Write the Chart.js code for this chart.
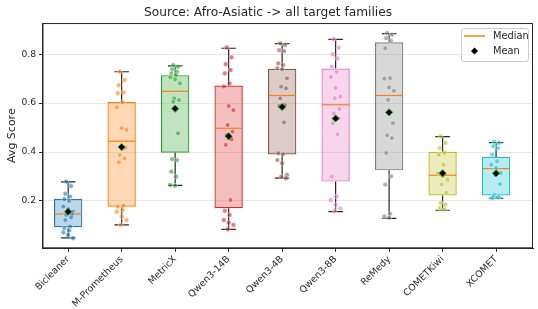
<!DOCTYPE html>
<html>
<head>
<meta charset="utf-8">
<script src="https://cdn.jsdelivr.net/npm/chart.js@4/dist/chart.umd.min.js"></script>
<style>
  html, body { margin: 0; padding: 0; background: #fff; }
  #chart { display: block; }
</style>
</head>
<body>
<canvas id="chart" width="538" height="309"></canvas>
<script>
// Categories and box statistics
const models = ['Bicleaner', 'M-Prometheus', 'MetricX', 'Qwen3-14B', 'Qwen3-4B', 'Qwen3-8B', 'ReMedy', 'COMETKiwi', 'XCOMET'];
const q1 = [0.093, 0.176, 0.397, 0.170, 0.390, 0.279, 0.325, 0.222, 0.222];
const medians = [0.147, 0.444, 0.648, 0.497, 0.631, 0.593, 0.631, 0.305, 0.332];
const q3 = [0.209, 0.604, 0.714, 0.672, 0.740, 0.741, 0.848, 0.401, 0.380];
const whiskerLow = [0.049, 0.102, 0.264, 0.084, 0.293, 0.156, 0.129, 0.162, 0.211];
const whiskerHigh = [0.278, 0.728, 0.752, 0.824, 0.843, 0.860, 0.884, 0.463, 0.438];
const means = [0.156, 0.420, 0.577, 0.464, 0.584, 0.537, 0.562, 0.313, 0.313];
const yTicks = [0.2, 0.4, 0.6, 0.8];

// individual scores (strip points)
const bicleanerPts = [0.279, 0.261, 0.229, 0.218, 0.207, 0.200, 0.177, 0.166, 0.156, 0.150, 0.145, 0.143, 0.133, 0.122, 0.095, 0.089, 0.079, 0.071, 0.061, 0.048];
const mPrometheusPts = [0.728, 0.694, 0.673, 0.644, 0.640, 0.603, 0.582, 0.497, 0.490, 0.422, 0.418, 0.388, 0.374, 0.358, 0.181, 0.177, 0.163, 0.156, 0.136, 0.122, 0.102];
const metricxPts = [0.755, 0.748, 0.738, 0.728, 0.721, 0.714, 0.705, 0.697, 0.680, 0.619, 0.612, 0.605, 0.476, 0.371, 0.367, 0.320, 0.299, 0.265, 0.262];
const qwen14Pts = [0.827, 0.787, 0.759, 0.735, 0.721, 0.680, 0.667, 0.588, 0.571, 0.510, 0.483, 0.469, 0.452, 0.429, 0.204, 0.160, 0.143, 0.122, 0.111, 0.102, 0.084];
const qwen4Pts = [0.844, 0.837, 0.816, 0.812, 0.762, 0.755, 0.742, 0.738, 0.701, 0.667, 0.660, 0.619, 0.592, 0.588, 0.521, 0.395, 0.391, 0.367, 0.354, 0.306, 0.299, 0.293];
const qwen8Pts = [0.861, 0.826, 0.799, 0.782, 0.748, 0.728, 0.707, 0.662, 0.626, 0.619, 0.576, 0.558, 0.537, 0.517, 0.472, 0.299, 0.218, 0.204, 0.184, 0.170, 0.159];
const remedyPts = [0.886, 0.879, 0.865, 0.854, 0.824, 0.702, 0.700, 0.664, 0.650, 0.613, 0.518, 0.468, 0.457, 0.396, 0.301, 0.267, 0.147, 0.137, 0.131];
const cometkiwiPts = [0.464, 0.437, 0.416, 0.396, 0.389, 0.348, 0.314, 0.301, 0.287, 0.267, 0.233, 0.192, 0.185, 0.171, 0.165];
const xcometPts = [0.442, 0.437, 0.424, 0.416, 0.389, 0.362, 0.348, 0.335, 0.314, 0.307, 0.269, 0.226, 0.221, 0.218, 0.215, 0.211];
const scores = [bicleanerPts, mPrometheusPts, metricxPts, qwen14Pts, qwen4Pts, qwen8Pts, remedyPts, cometkiwiPts, xcometPts];

const colors = ['#1f77b4', '#ff7f0e', '#2ca02c', '#d62728', '#8c564b', '#e377c2', '#7f7f7f', '#bcbd22', '#17becf'];

function rgba(hex, a) {
  const n = parseInt(hex.slice(1), 16);
  return `rgba(${(n >> 16) & 255},${(n >> 8) & 255},${n & 255},${a})`;
}

// small fixed horizontal spread so points don't sit on one line
function jitter(i) {
  return ((((i * 5 + 3) % 11) - 5) / 5) * 0.09;
}

const BOX_W = 0.53;
const CAP_W = 0.27;
const FONT = "'DejaVu Sans', sans-serif";
const INK = '#262626';

// whiskers, caps and median lines, drawn right after the boxes
const boxParts = {
  id: 'boxParts',
  afterDatasetDraw(chart, args) {
    if (args.index !== 0) return;
    const xs = chart.scales.x, ys = chart.scales.y, ctx = chart.ctx;
    ctx.save();
    models.forEach((m, i) => {
      const cx = xs.getPixelForValue(i);
      const capL = xs.getPixelForValue(i - CAP_W / 2), capR = xs.getPixelForValue(i + CAP_W / 2);
      const boxL = xs.getPixelForValue(i - BOX_W / 2), boxR = xs.getPixelForValue(i + BOX_W / 2);
      ctx.strokeStyle = INK;
      ctx.lineWidth = 1.2;
      ctx.beginPath();
      ctx.moveTo(cx, ys.getPixelForValue(q3[i]));
      ctx.lineTo(cx, ys.getPixelForValue(whiskerHigh[i]));
      ctx.moveTo(cx, ys.getPixelForValue(q1[i]));
      ctx.lineTo(cx, ys.getPixelForValue(whiskerLow[i]));
      ctx.moveTo(capL, ys.getPixelForValue(whiskerHigh[i]));
      ctx.lineTo(capR, ys.getPixelForValue(whiskerHigh[i]));
      ctx.moveTo(capL, ys.getPixelForValue(whiskerLow[i]));
      ctx.lineTo(capR, ys.getPixelForValue(whiskerLow[i]));
      ctx.stroke();
      ctx.strokeStyle = '#ff7f0e';
      ctx.lineWidth = 1.2;
      ctx.beginPath();
      ctx.moveTo(boxL + 0.6, ys.getPixelForValue(medians[i]));
      ctx.lineTo(boxR - 0.6, ys.getPixelForValue(medians[i]));
      ctx.stroke();
    });
    ctx.restore();
  }
};

// top/right spines and the legend box
const frameAndLegend = {
  id: 'frameAndLegend',
  afterDraw(chart) {
    const ctx = chart.ctx, a = chart.chartArea;
    ctx.save();
    ctx.strokeStyle = INK;
    ctx.lineWidth = 1;
    ctx.strokeRect(a.left + 0.5, a.top + 0.5, a.right - a.left - 1, a.bottom - a.top - 1);

    const w = 67, h = 33;
    const lx = a.right - 5 - w, ly = a.top + 5;
    ctx.beginPath();
    ctx.roundRect(lx + 0.5, ly + 0.5, w, h, 2.5);
    ctx.fillStyle = 'rgba(255,255,255,0.8)';
    ctx.fill();
    ctx.strokeStyle = '#cccccc';
    ctx.stroke();

    const row1 = ly + 8, row2 = ly + 23;
    ctx.strokeStyle = '#ff7f0e';
    ctx.lineWidth = 1.5;
    ctx.beginPath();
    ctx.moveTo(lx + 3, row1);
    ctx.lineTo(lx + 24, row1);
    ctx.stroke();

    ctx.fillStyle = '#000';
    ctx.beginPath();
    ctx.moveTo(lx + 13.5, row2 - 3.5);
    ctx.lineTo(lx + 17, row2);
    ctx.lineTo(lx + 13.5, row2 + 3.5);
    ctx.lineTo(lx + 10, row2);
    ctx.closePath();
    ctx.fill();

    ctx.fillStyle = INK;
    ctx.font = `9.8px ${FONT}`;
    ctx.textBaseline = 'middle';
    ctx.textAlign = 'left';
    ctx.fillText('Median', lx + 32, row1);
    ctx.fillText('Mean', lx + 32, row2);
    ctx.restore();
  }
};

const pointSets = scores.map((vals, m) => ({
  type: 'scatter',
  order: 2,
  data: vals.map((v, i) => ({ x: m + jitter(i), y: v })),
  backgroundColor: rgba(colors[m], 0.6),
  borderColor: 'rgba(255,255,255,0.7)',
  borderWidth: 0.6,
  pointRadius: 2.4
}));

new Chart(document.getElementById('chart'), {
  type: 'bar',
  data: {
    datasets: [
      {
        type: 'bar',
        order: 3,
        data: models.map((m, i) => ({ x: i, y: [q1[i], q3[i]] })),
        backgroundColor: colors.map(c => rgba(c, 0.3)),
        borderColor: colors,
        borderWidth: 1.2,
        borderSkipped: false,
        categoryPercentage: 1,
        barPercentage: BOX_W
      },
      ...pointSets,
      {
        type: 'scatter',
        order: 1,
        data: means.map((v, i) => ({ x: i, y: v })),
        pointStyle: 'rectRot',
        pointRadius: 3.6,
        backgroundColor: '#000',
        borderColor: '#2ca02c',
        borderWidth: 1
      }
    ]
  },
  options: {
    responsive: false,
    animation: false,
    devicePixelRatio: 1,
    layout: { padding: { left: 0, right: 2, top: 0, bottom: 0 } },
    plugins: {
      legend: { display: false },
      tooltip: { enabled: false },
      title: {
        display: true,
        text: 'Source: Afro-Asiatic -> all target families',
        color: INK,
        font: { family: FONT, size: 12.2, weight: 'normal' },
        padding: { top: 6, bottom: 2.4 }
      }
    },
    scales: {
      x: {
        type: 'linear',
        offset: false,
        min: -0.48,
        max: 8.69,
        afterBuildTicks: s => { s.ticks = models.map((m, i) => ({ value: i })); },
        afterFit: s => { s.height = 60.7; },
        grid: { offset: false, drawOnChartArea: false, drawTicks: true, tickLength: 3.5, tickColor: INK },
        border: { display: true, color: INK, width: 1 },
        ticks: {
          autoSkip: false,
          maxRotation: 45,
          minRotation: 45,
          padding: 2,
          color: INK,
          font: { family: FONT, size: 9.4 },
          callback: v => models[v]
        }
      },
      y: {
        min: 0.0065,
        max: 0.927,
        afterBuildTicks: s => { s.ticks = yTicks.map(v => ({ value: v })); },
        afterFit: s => { s.width = 42.5; },
        grid: { color: 'rgba(176,176,176,0.3)', lineWidth: 1, tickLength: 3.5, tickColor: INK },
        border: { display: true, color: INK, width: 1 },
        ticks: {
          padding: 3,
          color: INK,
          font: { family: FONT, size: 9.2 },
          callback: v => v.toFixed(1)
        },
        title: {
          display: true,
          text: 'Avg Score',
          color: INK,
          font: { family: FONT, size: 11 },
          padding: { top: 6, bottom: 0 }
        }
      }
    }
  },
  plugins: [boxParts, frameAndLegend]
});
</script>
</body>
</html>
